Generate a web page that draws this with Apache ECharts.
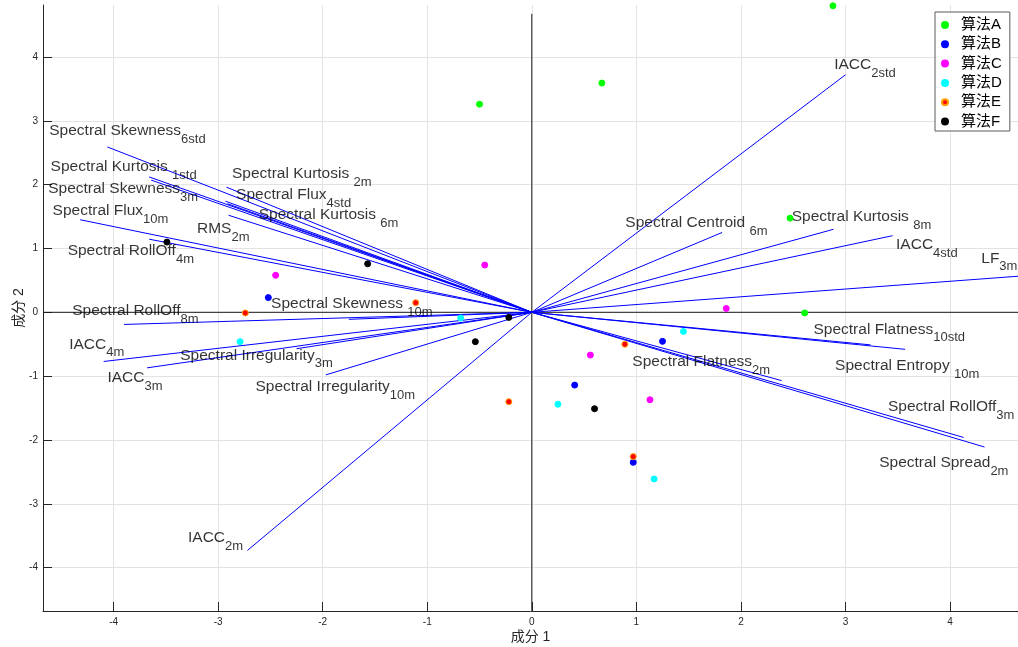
<!DOCTYPE html>
<html>
<head>
<meta charset="utf-8">
<script src="https://cdn.jsdelivr.net/npm/echarts@6/dist/echarts.min.js"></script>
<style>
html,body{margin:0;padding:0;background:#fff;}
#chart{width:1018px;height:647px;}
</style>
</head>
<body>
<div id="chart"></div>
<script>
// ---- variable vectors (loadings) ----
const varMain = ['Spectral Skewness','Spectral Kurtosis ','Spectral Skewness','Spectral Flux','RMS','Spectral RollOff',
  'Spectral Kurtosis ','Spectral Flux','Spectral Kurtosis ','Spectral Skewness ','Spectral RollOff','IACC','IACC',
  'Spectral Irregularity','Spectral Irregularity','IACC','IACC','Spectral Centroid ','Spectral Kurtosis ','IACC','LF',
  'Spectral Flatness','Spectral Entropy ','Spectral Flatness','Spectral RollOff','Spectral Spread'];
const varSub = ['6std','1std','3m','10m','2m','4m','2m','4std','6m','10m','8m','4m','3m','3m','10m','2m','2std','6m','8m',
  '4std','3m','10std','10m','2m','3m','2m'];
const vecX = [-4.06,-3.66,-3.64,-4.32,-2.90,-3.66,-2.92,-2.93,-2.91,-1.75,-3.90,-4.095,-3.68,-2.25,-1.97,-2.72,
  3.00,1.82,2.885,3.45,4.75,3.24,3.57,2.39,4.13,4.33];
const vecY = [2.59,2.12,2.07,1.45,1.52,1.145,1.96,1.74,1.70,-0.11,-0.19,-0.77,-0.87,-0.57,-0.98,-3.73,
  3.72,1.25,1.30,1.20,0.577,-0.51,-0.58,-1.07,-1.96,-2.11];
// label anchors (data units): left edge / vertical centre of main text
const labelX = [-4.620,-4.607,-4.630,-4.588,-3.207,-4.444,-2.872,-2.833,-2.616,-2.498,-4.400,-4.429,-4.064,-3.367,
  -2.648,-3.293,2.887,0.890,2.481,3.479,4.294,2.689,2.896,0.957,3.402,3.318];
const labelY = [2.847,2.282,1.932,1.587,1.304,0.959,2.167,1.838,1.524,0.138,0.022,-0.501,-1.023,-0.673,-1.171,-3.534,
  3.878,1.403,1.497,1.053,0.844,-0.265,-0.841,-0.778,-1.485,-2.363];

// ---- observations (scores) ----
const groupNames = ['算法A','算法B','算法C','算法D','算法E','算法F'];
const scoresA = [[2.88,4.80],[0.67,3.59],[-0.50,3.26],[2.47,1.475],[2.61,-0.01]];
const scoresB = [[-2.52,0.23],[1.25,-0.455],[0.41,-1.14],[0.97,-2.35]];
const scoresC = [[-2.45,0.58],[-0.45,0.74],[1.86,0.06],[0.56,-0.67],[1.13,-1.37]];
const scoresD = [[-2.79,-0.46],[-0.68,-0.09],[1.45,-0.30],[0.25,-1.44],[1.17,-2.61]];
const scoresE = [[-2.74,-0.01],[-1.11,0.15],[-0.22,-1.40],[0.89,-0.50],[0.97,-2.26]];
const scoresF = [[-3.49,1.10],[-1.57,0.76],[-0.22,-0.08],[-0.54,-0.46],[0.60,-1.51]];

// ---- axes ----
const xTicks = [-4,-3,-2,-1,0,1,2,3,4];
const yTicks = [-4,-3,-2,-1,0,1,2,3,4];
const xMin = -4.675, xMax = 4.65, yMin = -4.678, yMax = 4.813;
const refLim = 4.675;

const FONT = '"Liberation Sans", Arial, "Noto Sans CJK SC", sans-serif';
const groupData = [scoresA, scoresB, scoresC, scoresD, scoresE, scoresF];
const groupColors = ['#00ff00','#0000ff','#ff00ff','#00ffff','#ff0000','#000000'];
const groupBorders = ['#00ff00','#0000ff','#ff00ff','#00ffff','#ffa000','#000000'];

const series = [];
// reference zero lines
series.push({type:'line', silent:true, symbol:'none', z:1,
  data:[[-refLim,0],[refLim,0]], lineStyle:{color:'#1a1a1a', width:1}});
series.push({type:'line', silent:true, symbol:'none', z:1,
  data:[[0,-refLim],[0,refLim]], lineStyle:{color:'#1a1a1a', width:1}});
// vectors
for (let i = 0; i < vecX.length; i++) {
  series.push({type:'line', silent:true, symbol:'none', z:2,
    data:[[0,0],[vecX[i],vecY[i]]], lineStyle:{color:'#0000ff', width:1}});
}
// vector labels
series.push({
  type:'scatter', silent:true, z:3, symbol:'circle', symbolSize:1,
  itemStyle:{color:'rgba(0,0,0,0)'},
  data: labelX.map((x,i)=>[x,labelY[i]]),
  label:{
    show:true, position:'right', distance:0,
    formatter: p => '{m|' + varMain[p.dataIndex] + '}{s|' + varSub[p.dataIndex] + '}',
    rich:{
      m:{fontSize:15.5, fontFamily:FONT, color:'#000'},
      s:{fontSize:13, fontFamily:FONT, color:'#000', padding:[17,0,0,0]}
    }
  }
});
// groups
groupNames.forEach((g,k)=>{
  series.push({
    type:'scatter', name:g, z:4, symbol:'circle', symbolSize:6,
    itemStyle:{color:groupColors[k], borderColor:groupBorders[k], borderWidth:1, opacity:1},
    data: groupData[k]
  });
});

const axisCommon = {
  type:'value', splitNumber:9,
  axisLine:{show:true, onZero:false, lineStyle:{color:'#262626', width:1}},
  axisTick:{show:true, inside:true, length:9, lineStyle:{color:'#262626', width:1}},
  splitLine:{show:true, lineStyle:{color:'#e3e3e3', width:1}},
  nameLocation:'middle',
  nameMoveOverlap:false,
  nameTextStyle:{fontSize:14, color:'#262626', fontFamily:FONT}
};

const option = {
  animation:false,
  backgroundColor:'#fff',
  grid:{left:43, right:0, top:5, bottom:36, containLabel:false, outerBoundsMode:'none'},
  xAxis: Object.assign({}, axisCommon, {
    min:xMin, max:xMax, name:'成分 1', nameGap:19,
    axisTick: Object.assign({}, axisCommon.axisTick, {customValues:xTicks}),
    axisLabel:{customValues:xTicks, fontSize:10, color:'#262626', margin:6, fontFamily:FONT}
  }),
  yAxis: Object.assign({}, axisCommon, {
    min:yMin, max:yMax, name:'成分 2', nameGap:17,
    axisTick: Object.assign({}, axisCommon.axisTick, {customValues:yTicks}),
    axisLabel:{customValues:yTicks, fontSize:10, color:'#262626', margin:5, fontFamily:FONT}
  }),
  legend:{
    orient:'vertical', left:935, top:12,
    padding:[5.5,8,2,6],
    itemWidth:22, itemHeight:6, itemGap:4.3,
    icon:'circle',
    borderColor:'#5a5a5a', borderWidth:1, backgroundColor:'#fff',
    textStyle:{fontSize:15, color:'#000', fontFamily:FONT},
    data: groupNames
  },
  series: series
};

const chart = echarts.init(document.getElementById('chart'), null, {renderer:'canvas'});
chart.setOption(option);
</script>
</body>
</html>
